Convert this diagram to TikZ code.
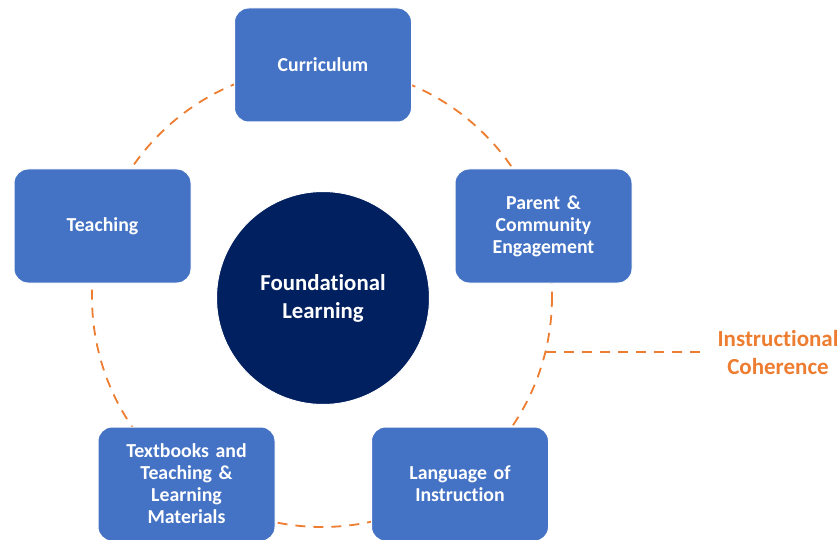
\documentclass[tikz,border=0pt]{standalone}
\usepackage{fontspec}
\setmainfont[Ligatures=NoCommon, WordSpace=0.8]{Carlito}
\definecolor{boxblue}{HTML}{4472C4}
\definecolor{navy}{HTML}{002060}
\definecolor{accent}{HTML}{ED7D31}
\begin{document}
\begin{tikzpicture}[x=1pt,y=-1pt,
  pillar/.style={draw=white, line width=1pt, fill=boxblue, rounded corners=14pt,
    minimum width=177pt, minimum height=114pt, text width=160pt, align=center,
    text=white, font=\bfseries\fontsize{19.8}{22}\selectfont},
  ring/.style={draw=accent, line width=1.8pt, dash pattern=on 10pt off 8pt},
  coretext/.style={font=\bfseries\fontsize{22.8}{28}\selectfont, text=white, align=center}]
  \useasboundingbox (0,0) rectangle (840,540);
  % dashed ring linking the five pillars
  \coordinate (c) at (322,297);
  \draw[ring] (c) circle[radius=230];
  % pointer to the ring's label
  \coordinate (tap) at (546,352);
  \coordinate (tapend) at (702,352);
  \draw[ring] (tap) -- (tapend);
  \node[font=\bfseries\fontsize{23}{28}\selectfont, text=accent, align=center] (lbl) at (778,353)
    {Instructional\\Coherence};
  % pillars
  \node[pillar] (cur) at (323,65) {Curriculum};
  \node[pillar] (tea) at (102.5,226) {Teaching};
  \node[pillar] (par) at (543.5,226) {Parent \&\\Community\\Engagement};
  \node[pillar] (txt) at (186.5,484) {Textbooks and\\Teaching \&\\Learning\\Materials};
  \node[pillar] (lan) at (460,484) {Language of\\Instruction};
  % central circle
  \node[circle, fill=navy, draw=white, line width=1pt, minimum size=213pt, coretext] (core) at (323,298)
    {Foundational\\Learning};
\end{tikzpicture}
\end{document}
